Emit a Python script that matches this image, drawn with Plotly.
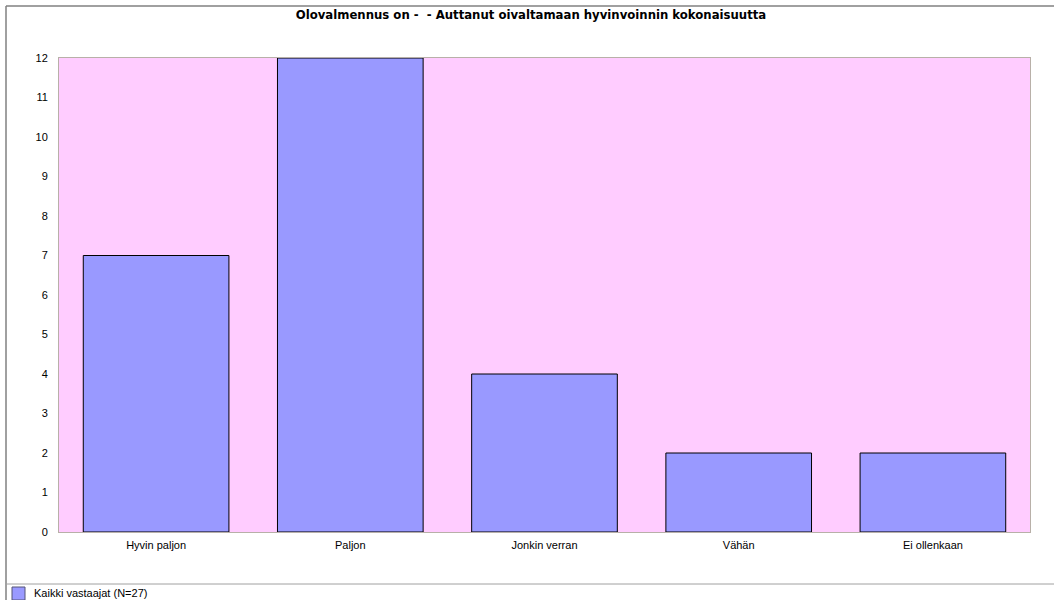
import plotly.graph_objects as go

categories = ["Hyvin paljon", "Paljon", "Jonkin verran", "Vähän", "Ei ollenkaan"]
counts = [7, 12, 4, 2, 2]
series_name = "Kaikki vastaajat (N=27)"
title_text = "Olovalmennus on -  - Auttanut oivaltamaan hyvinvoinnin kokonaisuutta"

W, H = 1054, 600
L, R, T, B = 59, 24, 58, 68
PW, PH = W - L - R, H - T - B


def px_x(x):
    return (x - L) / PW


def px_y(y):
    return (H - B - y) / PH


family = "Liberation Sans, Arial, sans-serif"
font = dict(family=family, size=11, color="#000000")
bar_fill = "#9999ff"

fig = go.Figure(
    go.Bar(
        x=categories,
        y=counts,
        name=series_name,
        width=0.75,
        marker=dict(color=bar_fill, line=dict(color="#000000", width=1)),
        showlegend=False,
    )
)

frame = "#808080"
fig.update_layout(
    width=W,
    height=H,
    margin=dict(l=L, r=R, t=T, b=B, pad=0, autoexpand=False),
    paper_bgcolor="#ffffff",
    plot_bgcolor="#ffccff",
    font=font,
    title=dict(
        text="<b>" + title_text + "</b>",
        x=531 / W,
        xref="container",
        xanchor="center",
        y=1 - 15 / H,
        yanchor="middle",
        font=dict(family="DejaVu Sans, Tahoma, sans-serif", size=11.7, color="#000000"),
    ),
    xaxis=dict(
        showgrid=False,
        showline=True,
        linecolor="#b8b0a8",
        linewidth=1,
        mirror=True,
        ticks="outside",
        ticklen=3,
        tickcolor="rgba(0,0,0,0)",
        tickfont=font,
        zeroline=False,
        automargin=False,
    ),
    yaxis=dict(
        range=[0, 12],
        dtick=1,
        showgrid=False,
        showline=True,
        linecolor="#b8b0a8",
        linewidth=1,
        mirror=True,
        ticks="outside",
        ticklen=8,
        tickcolor="rgba(0,0,0,0)",
        tickfont=font,
        zeroline=False,
        automargin=False,
    ),
    shapes=[
        dict(type="line", xref="paper", yref="paper", x0=px_x(6), x1=px_x(W + 5), y0=px_y(6), y1=px_y(6),
             line=dict(color=frame, width=1.5)),
        dict(type="line", xref="paper", yref="paper", x0=px_x(6), x1=px_x(6), y0=px_y(6), y1=px_y(H + 5),
             line=dict(color=frame, width=1.5)),
        dict(type="line", xref="paper", yref="paper", x0=px_x(6), x1=px_x(W + 5), y0=px_y(584), y1=px_y(584),
             line=dict(color="#a0a0a0", width=1)),
        # legend swatch
        dict(type="rect", xref="paper", yref="paper", x0=px_x(12), x1=px_x(25), y0=px_y(587), y1=px_y(600),
             fillcolor=bar_fill, line=dict(color="#555577", width=1)),
    ],
    annotations=[
        dict(text=series_name, xref="paper", yref="paper", x=px_x(32), y=px_y(593),
             xanchor="left", yanchor="middle", showarrow=False,
             font=dict(family=family, size=11, color="#000000")),
    ],
)

fig.write_html("out.html")
